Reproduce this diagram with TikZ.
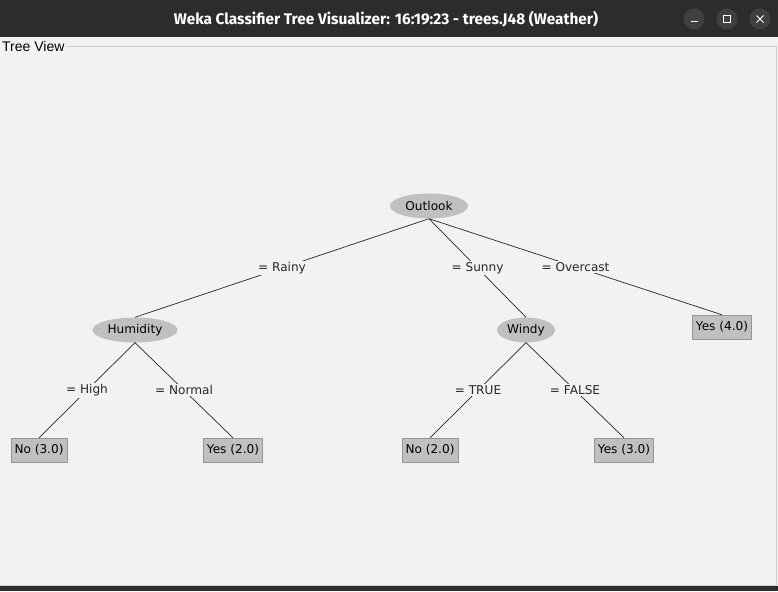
\documentclass[tikz,border=0pt]{standalone}
\usepackage{fontspec}
\setmainfont{DejaVu Sans}
\newfontfamily\titlefont{Fira Sans}
\newfontfamily\borderfont{Liberation Sans}
\usetikzlibrary{shapes.geometric, calc}
\definecolor{panelbg}{RGB}{242,242,242}
\definecolor{barbg}{RGB}{44,44,44}
\definecolor{btnbg}{RGB}{64,64,64}
\definecolor{nodegray}{RGB}{192,192,192}
\definecolor{framegray}{RGB}{205,205,205}
\definecolor{leafedge}{RGB}{150,150,150}

\begin{document}
\begin{tikzpicture}[x=1pt, y=-1pt, font=\fontsize{12.1}{14}\selectfont]
			% 样式
			\tikzstyle{split} = [ellipse, fill=nodegray, inner sep=0pt, minimum height=25pt]
			\tikzstyle{leaf} = [rectangle, fill=nodegray, draw=leafedge, inner xsep=3.5pt, minimum height=24pt]
			\tikzstyle{cond} = [fill=panelbg, inner sep=1.5pt]
			\tikzstyle{edge} = [line width=0.7pt, black!85]
			\tikzstyle{btn} = [circle, fill=btnbg, minimum size=21pt, inner sep=0pt]
			\tikzstyle{glyph} = [white, line width=1pt]
			
			\useasboundingbox (0,0) rectangle (778,591);
			
			% 窗口
			\fill [panelbg] (0,37) rectangle (778,586);
			\fill [barbg] (0,0) rectangle (778,37);
			\fill [barbg] (0,586) rectangle (778,591);
			\node [text=white, font=\titlefont\bfseries\fontsize{15.4}{18}\selectfont] (title) at (386,19) {Weka Classifier Tree Visualizer: 16:19:23 - trees.J48 (Weather)};
			\node [btn] (minbtn) at (694,19) {};
			\node [btn] (maxbtn) at (727,19) {};
			\node [btn] (closebtn) at (760,19) {};
			\draw [glyph] ($(minbtn)+(-3.5,3)$) -- ($(minbtn)+(3.5,3)$);
			\draw [glyph] ($(maxbtn)+(-3.5,-3.5)$) rectangle ($(maxbtn)+(3.5,3.5)$);
			\draw [glyph] ($(closebtn)+(-3.5,-3.5)$) -- ($(closebtn)+(3.5,3.5)$);
			\draw [glyph] ($(closebtn)+(-3.5,3.5)$) -- ($(closebtn)+(3.5,-3.5)$);
			
			% 边框
			\node [anchor=west, inner sep=0pt, font=\borderfont\fontsize{14}{16}\selectfont] (treeview) at (2,46) {Tree View};
			\draw [framegray] ([xshift=1pt]treeview.east) -- (776,46) -- (776,585) -- (0,585);
			
			% 节点
			\node [split, minimum width=78pt] (outlook) at (429,206) {Outlook};
			\node [split, minimum width=85pt] (humidity) at (135,330) {Humidity};
			\node [split, minimum width=58pt] (windy) at (526,330) {Windy};
			\node [leaf] (yes40) at (722,327) {Yes (4.0)};
			\node [leaf] (no30) at (39,450) {No (3.0)};
			\node [leaf] (yes20) at (233,450) {Yes (2.0)};
			\node [leaf] (no20) at (430,450) {No (2.0)};
			\node [leaf] (yes30) at (624,450) {Yes (3.0)};
			
			% 连线
			\draw [edge] (outlook.south) -- node[cond] {= Rainy} (humidity.north);
			\draw [edge] (outlook.south) -- node[cond] {= Sunny} (windy.north);
			\draw [edge] (outlook.south) -- node[cond] {= Overcast} (yes40.north);
			\draw [edge] (humidity.south) -- node[cond] {= High} (no30.north);
			\draw [edge] (humidity.south) -- node[cond] {= Normal} (yes20.north);
			\draw [edge] (windy.south) -- node[cond] {= TRUE} (no20.north);
			\draw [edge] (windy.south) -- node[cond] {= FALSE} (yes30.north);
		\end{tikzpicture}
\end{document}
